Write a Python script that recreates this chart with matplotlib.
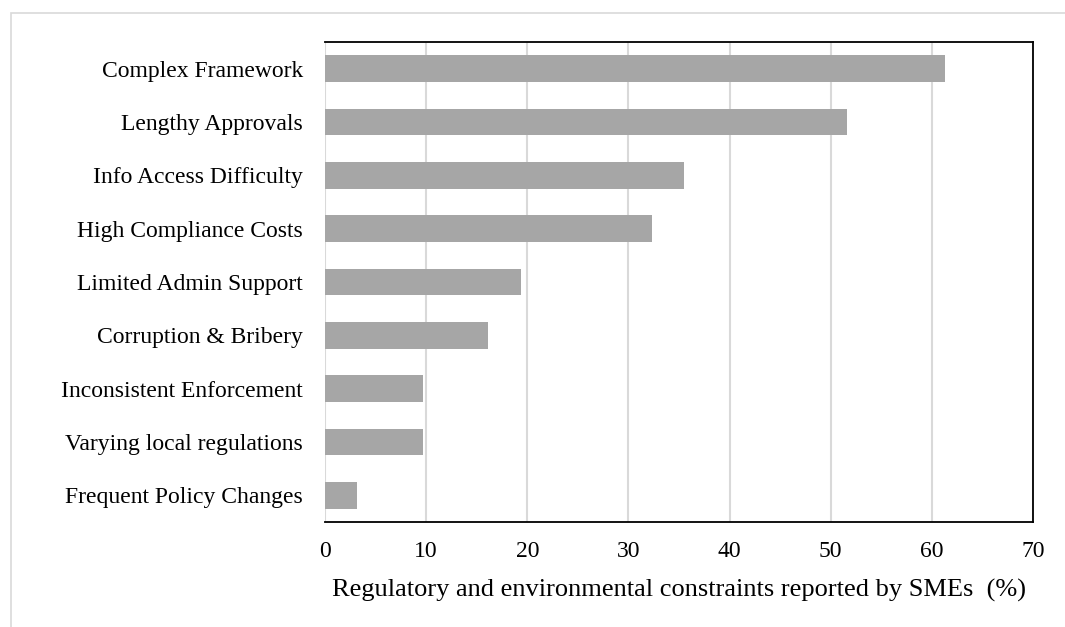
import matplotlib.pyplot as plt
from matplotlib.patches import Rectangle

# survey share of SMEs reporting each constraint (%)
categories = ["Complex Framework", "Lengthy Approvals", "Info Access Difficulty",
              "High Compliance Costs", "Limited Admin Support", "Corruption & Bribery",
              "Inconsistent Enforcement", "Varying local regulations",
              "Frequent Policy Changes"]
values = [61.3, 51.6, 35.5, 32.3, 19.4, 16.1, 9.7, 9.7, 3.2]
xticks = [0, 10, 20, 30, 40, 50, 60, 70]

plt.rcParams['font.family'] = ['Liberation Serif', 'DejaVu Serif']

fig = plt.figure(figsize=(10.65, 6.27), dpi=100)
ax = fig.add_axes([325 / 1065, 1 - 522 / 627, 708 / 1065, 480 / 627])

# light frame around the chart area
fig.patches.append(Rectangle((11 / 1065, -0.1), 1.2, 1 - 13 / 627 + 0.1,
                             transform=fig.transFigure, fill=False,
                             edgecolor='#d9d9d9', linewidth=1.2))

pos = list(range(len(categories)))
ax.barh(pos, values, height=0.5, color='#a6a6a6', zorder=3)
ax.set_ylim(len(categories) - 0.5, -0.5)
ax.set_yticks(pos)
ax.set_yticklabels(categories, fontsize=17)

ax.set_xlim(0, 70)
ax.set_xticks(xticks)
ax.set_xticklabels([str(t) for t in xticks], fontsize=17)
ax.tick_params(axis='x', length=0, pad=14)
ax.tick_params(axis='y', length=0, pad=16)
ax.xaxis.grid(True, color='#d9d9d9', linewidth=1.5, zorder=0)
ax.set_axisbelow(True)

for side in ['top', 'right', 'bottom']:
    ax.spines[side].set_color('black')
    ax.spines[side].set_linewidth(1.3)
ax.spines['left'].set_visible(False)

ax.set_xlabel("Regulatory and environmental constraints reported by SMEs  (%)",
              fontsize=19, labelpad=12)

fig.savefig('out.png', dpi=100)
